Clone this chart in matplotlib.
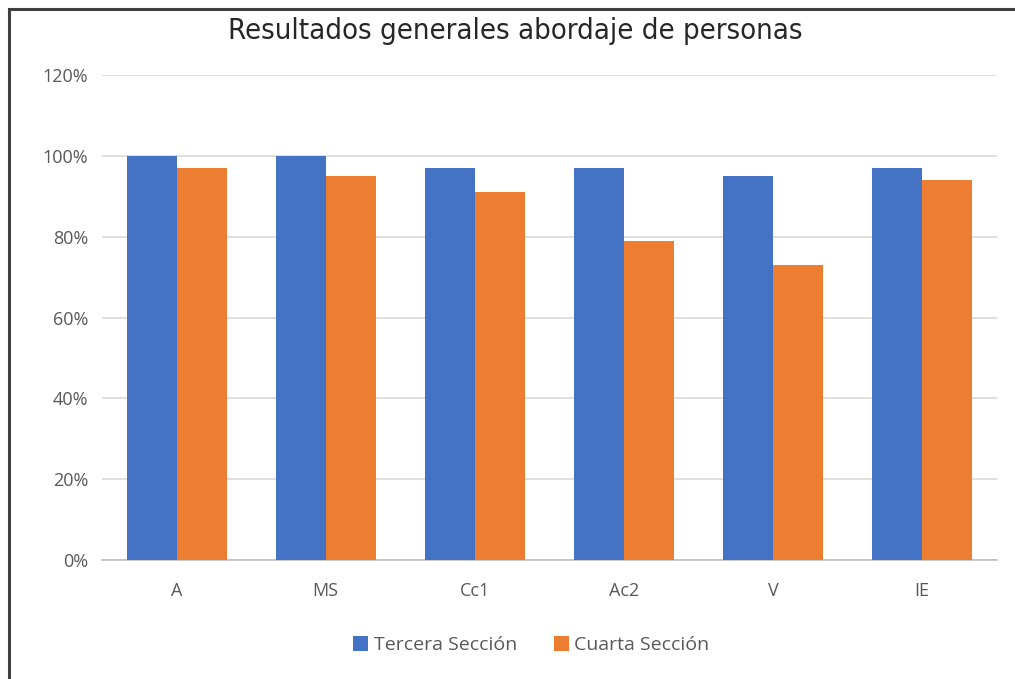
import numpy as np
import matplotlib.pyplot as plt
from matplotlib.lines import Line2D

# data
categories = ["A", "MS", "Cc1", "Ac2", "V", "IE"]
tercera = [100, 100, 97, 97, 95, 97]
cuarta = [97, 95, 91, 79, 73, 94]
yticks = [0, 20, 40, 60, 80, 100, 120]

blue = "#4472C4"
orange = "#ED7D31"
grey_txt = "#595959"

plt.rcParams["font.family"] = ["Open Sans", "DejaVu Sans"]

fig = plt.figure(figsize=(10.15, 6.79), dpi=100)
ax = fig.add_axes([0.1005, 0.1753, 0.8815, 0.7142])

x = np.arange(len(categories))
w = 0.335
ax.bar(x - w / 2, tercera, width=w, color=blue, label="Tercera Sección", zorder=3)
ax.bar(x + w / 2, cuarta, width=w, color=orange, label="Cuarta Sección", zorder=3)

ax.set_xlim(-0.5, len(categories) - 0.5)
ax.set_ylim(0, 120)
ax.set_yticks(yticks)
ax.set_yticklabels([f"{t}%" for t in yticks])
ax.set_xticks(x)
ax.set_xticklabels(categories)

ax.grid(axis="y", color="#D9D9D9", linewidth=1.2, zorder=0)
for s in ["top", "right", "left"]:
    ax.spines[s].set_visible(False)
ax.spines["bottom"].set_color("#BFBFBF")
ax.spines["bottom"].set_linewidth(1.2)
ax.tick_params(axis="both", length=0, colors=grey_txt, labelsize=13)
ax.tick_params(axis="y", pad=10)
ax.tick_params(axis="x", pad=16)

fig.text(0.508, 0.955, "Resultados generales abordaje de personas",
         ha="center", va="center", fontsize=21, color="#262626",
         family="DejaVu Sans", fontstretch="condensed")

ax.legend(loc="center", bbox_to_anchor=(0.48, -0.176), ncol=2, frameon=False,
          fontsize=14, labelcolor=grey_txt, handlelength=0.75, handleheight=0.75,
          handletextpad=0.3, columnspacing=1.9)

# frame of the screenshot: left and top edges only
fig.add_artist(Line2D([0.009, 0.009], [0, 0.987], transform=fig.transFigure,
                      color="#404040", linewidth=2.2))
fig.add_artist(Line2D([0.009, 1.0], [0.987, 0.987], transform=fig.transFigure,
                      color="#404040", linewidth=2.2))

fig.savefig("out.png", dpi=100)
